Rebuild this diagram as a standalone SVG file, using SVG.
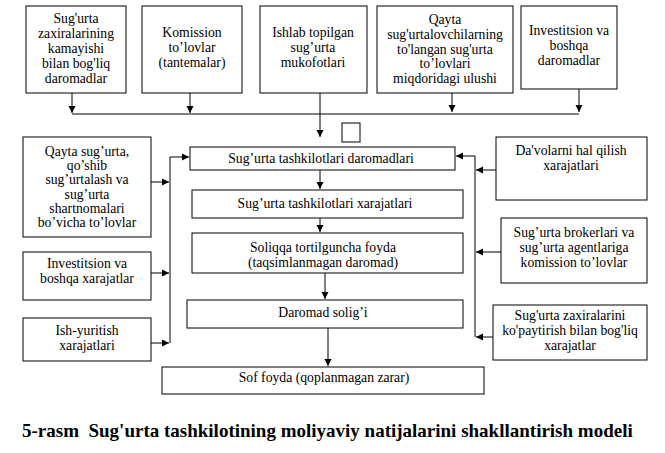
<svg xmlns="http://www.w3.org/2000/svg" width="665" height="453" viewBox="0 0 665 453">
<style>
.b{fill:#fff;stroke:#000;stroke-width:1}
text{font-family:"Liberation Serif","Times New Roman",serif;font-size:13.7px;fill:#000;text-anchor:middle}
.t{font-weight:bold;font-size:19px;text-anchor:start}
.c{fill:none;stroke:#000;stroke-width:1}
</style>
<defs>
<marker id="a" markerWidth="8" markerHeight="8" refX="7" refY="4" orient="auto" markerUnits="userSpaceOnUse">
<path d="M0,0.5 L7,4 L0,7.5 Z" fill="#000"/>
</marker>
</defs>
<rect width="665" height="453" fill="#fff"/>
<g id="connectors">
<path class="c" d="M72,93 V113" marker-end="url(#a)"/>
<path class="c" d="M190,93 V113" marker-end="url(#a)"/>
<path class="c" d="M452,89 V112" marker-end="url(#a)"/>
<path class="c" d="M579,89 V112" marker-end="url(#a)"/>
<path class="c" d="M72,114 H579"/>
<path class="c" d="M320,93 V137" marker-end="url(#a)"/>
<path class="c" d="M320,170 V189" marker-end="url(#a)"/>
<path class="c" d="M320,218 V232" marker-end="url(#a)"/>
<path class="c" d="M325,273 V299" marker-end="url(#a)"/>
<path class="c" d="M328,328 V366" marker-end="url(#a)"/>
<path class="c" d="M170,343 V157 H189" marker-end="url(#a)"/>
<path class="c" d="M151,182 H169" marker-end="url(#a)"/>
<path class="c" d="M151,273 H169" marker-end="url(#a)"/>
<path class="c" d="M151,343 H169" marker-end="url(#a)"/>
<path class="c" d="M475,337 V156 H456" marker-end="url(#a)"/>
<path class="c" d="M496,170 H476" marker-end="url(#a)"/>
<path class="c" d="M501,252 H476" marker-end="url(#a)"/>
<path class="c" d="M493,337 H476" marker-end="url(#a)"/>
</g>
<g id="n1"><rect class="b" x="26" y="6" width="100" height="87"/>
<text x="76" y="23">Sug'urta</text><text x="76" y="38">zaxiralarining</text><text x="76" y="53">kamayishi</text><text x="76" y="68">bilan bog'liq</text><text x="76" y="83">daromadlar</text></g>
<g id="n2"><rect class="b" x="142" y="6" width="100" height="87"/>
<text x="192" y="37">Komission</text><text x="192" y="52">to’lovlar</text><text x="192" y="67">(tantemalar)</text></g>
<g id="n3"><rect class="b" x="260" y="6" width="107" height="87"/>
<text x="313" y="37">Ishlab topilgan</text><text x="313" y="52">sug’urta</text><text x="313" y="67">mukofotlari</text></g>
<g id="n4"><rect class="b" x="377" y="6" width="136" height="87"/>
<text x="445" y="24">Qayta</text><text x="445" y="39">sug'urtalovchilarning</text><text x="445" y="54">to'langan sug'urta</text><text x="445" y="68">to’lovlari</text><text x="445" y="83">miqdoridagi ulushi</text></g>
<g id="n5"><rect class="b" x="521" y="6" width="96" height="83"/>
<text x="569" y="35">Investitsion va</text><text x="569" y="50">boshqa</text><text x="569" y="65">daromadlar</text></g>
<g id="sq"><rect class="b" x="342" y="123" width="18" height="19"/></g>
<g id="m1"><rect class="b" x="190" y="147" width="265" height="23"/>
<text x="321" y="163">Sug’urta tashkilotlari daromadlari</text></g>
<g id="m2"><rect class="b" x="192" y="190" width="271" height="28"/>
<text x="325" y="208">Sug’urta tashkilotlari xarajatlari</text></g>
<g id="m3"><rect class="b" x="192" y="233" width="271" height="40"/>
<text x="323" y="252">Soliqqa tortilguncha foyda</text><text x="323" y="267">(taqsimlanmagan daromad)</text></g>
<g id="m4"><rect class="b" x="187" y="300" width="276" height="28"/>
<text x="323" y="317">Daromad solig’i</text></g>
<g id="m5"><rect class="b" x="162" y="367" width="322" height="27"/>
<text x="324" y="382">Sof foyda (qoplanmagan zarar)</text></g>
<g id="l1"><rect class="b" x="23" y="137" width="128" height="100"/>
<text x="87" y="156">Qayta sug’urta,</text><text x="87" y="170">qo’shib</text><text x="87" y="184">sug’urtalash va</text><text x="87" y="199">sug’urta</text><text x="87" y="213">shartnomalari</text><text x="87" y="227">bo’vicha to’lovlar</text></g>
<g id="l2"><rect class="b" x="23" y="252" width="128" height="48"/>
<text x="87" y="268">Investitsion va</text><text x="87" y="283">boshqa xarajatlar</text></g>
<g id="l3"><rect class="b" x="23" y="318" width="128" height="43"/>
<text x="87" y="335">Ish-yuritish</text><text x="87" y="350">xarajatlari</text></g>
<g id="r1"><rect class="b" x="496" y="137" width="151" height="63"/>
<text x="571" y="155">Da'volarni hal qilish</text><text x="571" y="170">xarajatlari</text></g>
<g id="r2"><rect class="b" x="501" y="218" width="146" height="65"/>
<text x="574" y="237">Sug’urta brokerlari va</text><text x="574" y="252">sug’urta agentlariga</text><text x="574" y="267">komission to’lovlar</text></g>
<g id="r3"><rect class="b" x="493" y="305" width="154" height="55"/>
<text x="570" y="320">Sug'urta zaxiralarini</text><text x="570" y="335">ko'paytirish bilan bog'liq</text><text x="570" y="350">xarajatlar</text></g>
<text class="t" x="22" y="437" xml:space="preserve">5-rasm  Sug'urta tashkilotining moliyaviy natijalarini shakllantirish modeli</text>
</svg>
